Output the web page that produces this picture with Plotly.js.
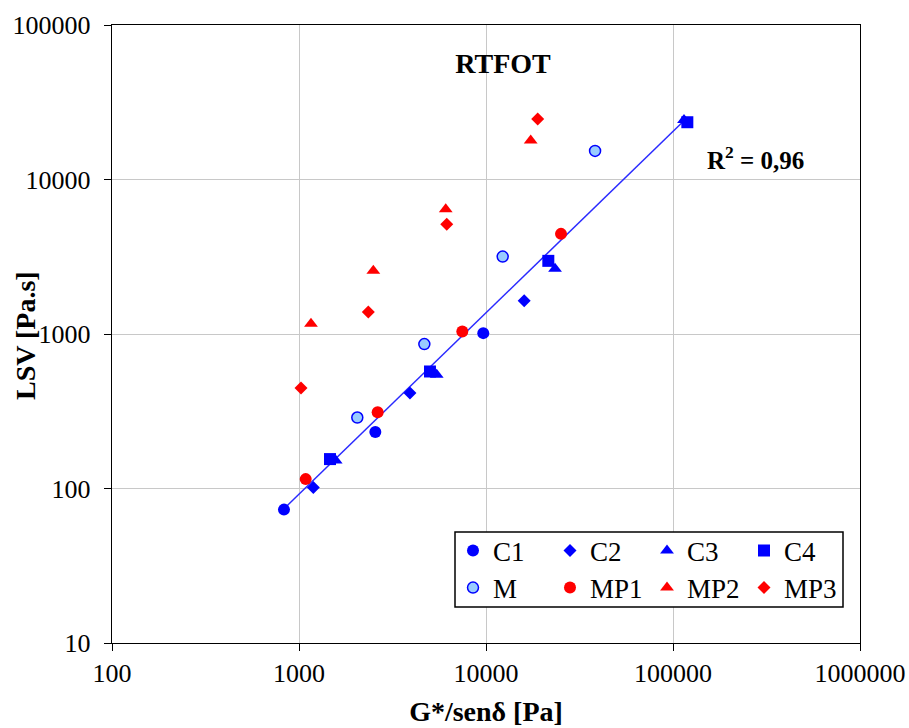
<!DOCTYPE html>
<html>
<head>
<meta charset="utf-8">
<script src="https://cdn.plot.ly/plotly-3.0.1.min.js"></script>
<style>html,body{margin:0;padding:0;background:#fff;}#chart{width:909px;height:728px;}</style>
</head>
<body>
<div id="chart"></div>
<script>
// ---- data (G*/senδ [Pa], LSV [Pa.s]) ----
const c1X = [831, 2560, 9670];
const c1Y = [73, 232, 1013];
const c2X = [1193, 3920, 16000];
const c2Y = [101.6, 415, 1640];
const c3X = [1571, 5450, 23400, 114500];
const c3Y = [152, 545, 2640, 24300];
const c4X = [1465, 5016, 21540, 119300];
const c4Y = [155, 572, 2975, 23480];
const mX = [2050, 4680, 12280, 38300];
const mY = [288, 860, 3170, 15310];
const mp1X = [1086, 2634, 7470, 25180];
const mp1Y = [115, 312, 1038, 4447];
const mp2X = [1159, 2497, 6090, 17340];
const mp2Y = [1164, 2564, 6424, 17850];
const mp3X = [1025, 2348, 6166, 18900];
const mp3Y = [447, 1386, 5140, 24660];
// power-law trendline LSV = a * G^b, as shown in the reference
const trendA = 0.0276;
const trendB = 1.174;
const r2Label = 'R<sup>2</sup> = 0,96';
const xTickVals = [100, 1000, 10000, 100000, 1000000];
const xTickText = ['100', '1000', '10000', '100000', '1000000'];
const yTickVals = [10, 100, 1000, 10000, 100000];
const yTickText = ['10', '100', '1000', '10000', '100000'];

const FONT = 'Liberation Serif, Times New Roman, serif';
const BLUE = '#0000FF';
const RED = '#FF0000';

// trendline over the range of the fitted series
const fitted = [].concat(c1X, c2X, c3X, c4X, mX, mp1X);
const tMin = Math.min.apply(null, fitted);
const tMax = Math.max.apply(null, fitted);
const trendX = [tMin, tMax];
const trendY = trendX.map(v => trendA * Math.pow(v, trendB));

function pts(name, x, y, symbol, size, color, line, legend) {
  return {
    type: 'scatter', mode: 'markers', name: name, x: x, y: y,
    legend: legend,
    marker: {symbol: symbol, size: size, color: color,
             line: line || {width: 0}},
    cliponaxis: false
  };
}

const traces = [
  {type: 'scatter', mode: 'lines', x: trendX, y: trendY, showlegend: false,
   line: {color: '#2a2aff', width: 1.5}, hoverinfo: 'skip'},
  pts('C1', c1X, c1Y, 'circle', 12, BLUE, null, 'legend'),
  pts('C2', c2X, c2Y, 'diamond', 10, BLUE, null, 'legend'),
  pts('C3', c3X, c3Y, 'triangle-up', 12, BLUE, null, 'legend'),
  pts('C4', c4X, c4Y, 'square', 12, BLUE, null, 'legend'),
  pts('M', mX, mY, 'circle', 11, '#99CCFF', {color: BLUE, width: 1.5}, 'legend2'),
  pts('MP1', mp1X, mp1Y, 'circle', 12, RED, null, 'legend2'),
  pts('MP2', mp2X, mp2Y, 'triangle-up', 12, RED, null, 'legend2'),
  pts('MP3', mp3X, mp3Y, 'diamond', 10, RED, null, 'legend2')
];

const L = 112, R = 860, T = 25, B = 643;
const W = R - L, H = B - T;
const px = v => (v - L) / W;
const py = v => (B - v) / H;

const legendCommon = {
  orientation: 'h', xanchor: 'left', yanchor: 'middle',
  bgcolor: 'rgba(0,0,0,0)', borderwidth: 0,
  font: {family: FONT, size: 27, color: '#000'},
  indentation: -8,
  entrywidth: 60, entrywidthmode: 'pixels', itemclick: false
};

const layout = {
  width: 909, height: 728,
  margin: {l: L, r: 909 - R, t: T, b: 728 - B},
  paper_bgcolor: '#fff', plot_bgcolor: '#fff',
  font: {family: FONT, color: '#000'},
  title: {text: '<b>RTFOT</b>', font: {family: FONT, size: 28, color: '#000'},
          xref: 'paper', x: px(503), xanchor: 'center',
          yref: 'paper', y: py(63), yanchor: 'middle'},
  xaxis: {
    type: 'log', range: [2, 6],
    tickvals: xTickVals, ticktext: xTickText,
    ticks: 'outside', ticklen: 7, tickcolor: '#000', tickwidth: 1,
    tickfont: {family: FONT, size: 26, color: '#000'},
    showgrid: true, gridcolor: '#c8c8c8', gridwidth: 1,
    showline: true, linecolor: '#000', linewidth: 1.2, mirror: true,
    zeroline: false,
    title: {text: '<b>G*/senδ [Pa]</b>', font: {family: FONT, size: 28, color: '#000'}, standoff: 14}
  },
  yaxis: {
    type: 'log', range: [1, 5],
    tickvals: yTickVals, ticktext: yTickText,
    ticks: 'outside', ticklen: 7, tickcolor: '#000', tickwidth: 1,
    tickfont: {family: FONT, size: 26, color: '#000'},
    ticklabelstandoff: 8,
    showgrid: true, gridcolor: '#c8c8c8', gridwidth: 1,
    showline: true, linecolor: '#000', linewidth: 1.2, mirror: true,
    zeroline: false
  },
  showlegend: true,
  legend: Object.assign({}, legendCommon, {x: px(461), y: py(551)}),
  legend2: Object.assign({}, legendCommon, {x: px(461), y: py(588)}),
  shapes: [{
    type: 'rect', xref: 'paper', yref: 'paper', layer: 'above',
    x0: px(455), x1: px(843), y0: py(607), y1: py(532),
    fillcolor: '#fff', line: {color: '#000', width: 1.5}
  }],
  annotations: [{
    text: '<b>' + r2Label + '</b>', xref: 'paper', yref: 'paper',
    x: px(705), y: py(158), xanchor: 'left', yanchor: 'middle',
    showarrow: false, font: {family: FONT, size: 25, color: '#000'}
  }, {
    text: '<b>LSV [Pa.s]</b>', xref: 'paper', yref: 'paper', textangle: -90,
    x: px(25), y: py(336), xanchor: 'center', yanchor: 'middle',
    showarrow: false, font: {family: FONT, size: 28, color: '#000'}
  }]
};

Plotly.newPlot('chart', traces, layout, {displayModeBar: false, staticPlot: true});
</script>
</body>
</html>
